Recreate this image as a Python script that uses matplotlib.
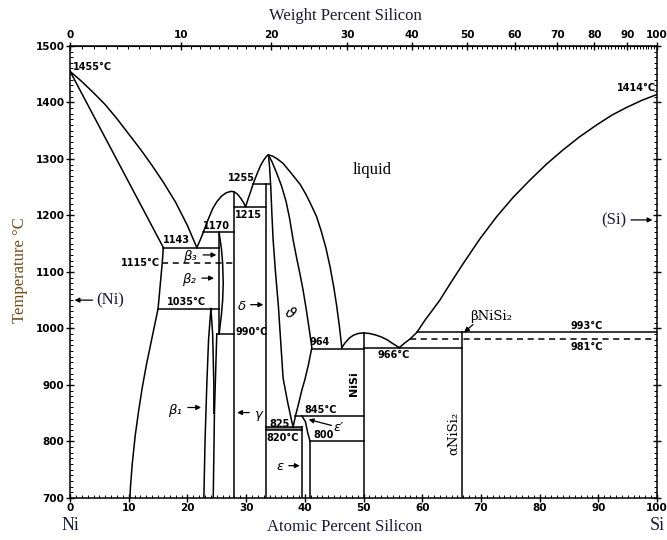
import numpy as np
import matplotlib
matplotlib.use("Agg")
import matplotlib.pyplot as plt
from matplotlib.ticker import MultipleLocator, FixedLocator

plt.rcParams['font.weight'] = 'bold'

# ---- phase boundaries (atomic % Si, temperature in C) ----
liq_ni_x = [0, 2, 4, 6, 8, 10, 12, 14, 16, 18, 20, 21.6]
liq_ni_t = [1455, 1437, 1417, 1396, 1371, 1344, 1317, 1288, 1257, 1223, 1182, 1143]

sol_ni_x = [0, 15.9]
sol_ni_t = [1455, 1143]

solv_ni_x = [15.9, 15.7, 15.0, 14.4, 13.7, 13.0, 12.3, 11.7, 11.1, 10.6, 10.3, 10.2]
solv_ni_t = [1143, 1115, 1035, 1005, 970, 935, 895, 855, 810, 760, 720, 700]

liq_mid_x = [21.6, 22.2, 22.7, 23.5, 24.3, 25.0, 25.8, 26.6, 27.4, 27.9, 28.5, 29.1,
             29.6, 29.9, 30.3, 30.8, 31.2, 31.8, 32.4, 33.0, 33.5, 33.8]
liq_mid_t = [1143, 1157, 1170, 1192, 1212, 1224, 1234, 1240, 1242.5, 1242, 1238, 1230,
             1222, 1215, 1228, 1243, 1256, 1272, 1287, 1298, 1305, 1307]

liq_theta_x = [33.8, 34.5, 35.3, 36.3, 37.5, 38.5, 39.2, 40.2, 41.1, 42.0, 42.8, 43.6,
               44.3, 44.9, 45.4, 45.9, 46.3]
liq_theta_t = [1307, 1305, 1300, 1292, 1277, 1264, 1255, 1237, 1218, 1198, 1172, 1142,
               1109, 1075, 1042, 1003, 966]

theta_r_x = [33.8, 34.4, 35.2, 36.0, 36.8, 37.4, 38.0, 38.6, 39.2, 39.7, 40.3, 40.8, 41.2,
             40.6, 40.0, 39.5, 38.9, 38.4, 38.0]
theta_r_t = [1307, 1295, 1275, 1253, 1225, 1195, 1157, 1125, 1095, 1068, 1030, 995, 966,
             935, 909, 891, 865, 845, 825]

theta_l_x = [33.8, 34.0, 34.2, 34.4, 34.6, 35.0, 35.5, 35.9, 36.3, 37.1, 38.0]
theta_l_t = [1307, 1285, 1250, 1200, 1157, 1100, 1039, 975, 912, 868, 825]

liq_nisi_x = [46.3, 46.9, 47.6, 48.3, 49.1, 50, 51, 52, 53, 54, 55, 56.1]
liq_nisi_t = [966, 975, 983, 988, 991, 992, 991, 988.5, 985, 980, 973, 966]

liq_si_x = [56.1, 57.0, 57.9, 59.1, 60.5, 61.8, 63.0, 65.0, 67.0, 69.8, 72.7, 75.5, 78.4,
            81.2, 84.0, 86.8, 89.7, 92.4, 95.0, 97.5, 100]
liq_si_t = [966, 974, 981, 993, 1015, 1033, 1050, 1083, 1115, 1158, 1198, 1232, 1263,
            1291, 1316, 1339, 1360, 1378, 1392, 1404, 1414]

beta1_l_x = [22.8, 23.0, 23.3, 23.6, 24.0]
beta1_l_t = [700, 800, 900, 980, 1035]
beta1_m_x = [24.0, 24.3, 24.5, 24.5]
beta1_m_t = [1035, 990, 900, 850]
beta1_r_x = [24.4, 24.6, 25.0]
beta1_r_t = [700, 850, 990]

beta2_x = [25.4, 25.8, 26.0, 26.1, 26.0, 25.8, 25.4]
beta2_t = [1170, 1140, 1115, 1080, 1050, 1025, 990]

eps_p_x = [39.5, 40.1, 40.5, 40.9]
eps_p_t = [845, 835, 815, 800]

# vertical compound lines: x, t_top, t_bottom
verticals = [(25.3, 1170, 990), (27.9, 1242, 700), (33.4, 1255, 700),
             (39.6, 826, 700), (40.9, 800, 700), (50.0, 992, 700), (66.7, 993, 700)]

# invariant horizontal lines: t, x_start, x_end
invariants = [(1143, 15.9, 25.3), (1170, 22.7, 27.9), (1035, 15.0, 25.3),
              (990, 25.0, 27.9), (1215, 27.9, 33.4), (1255, 31.2, 34.0),
              (964, 41.2, 50.0), (966, 50.0, 66.7), (993, 59.1, 100),
              (845, 38.4, 50.0), (800, 40.9, 50.0), (825, 33.4, 39.6), (820, 33.4, 39.6)]
dashed = [(1115, 15.7, 27.9), (981, 57.9, 100)]

M_SI, M_NI = 28.0855, 58.693


def at2wt(a):
    a = np.asarray(a, dtype=float)
    return 100 * a * M_SI / (a * M_SI + (100 - a) * M_NI)


def wt2at(w):
    w = np.asarray(w, dtype=float)
    return 100 * (w / M_SI) / (w / M_SI + (100 - w) / M_NI)


fig = plt.figure(figsize=(6.67, 5.4), dpi=100)
ax = fig.add_axes([0.105, 0.078, 0.880, 0.837])
ax.set_xlim(0, 100)
ax.set_ylim(700, 1500)

lw = 1.1
k = 'black'
for xs, ts in [(liq_ni_x, liq_ni_t), (sol_ni_x, sol_ni_t), (solv_ni_x, solv_ni_t),
               (liq_mid_x, liq_mid_t), (liq_theta_x, liq_theta_t), (theta_r_x, theta_r_t),
               (theta_l_x, theta_l_t), (liq_nisi_x, liq_nisi_t), (liq_si_x, liq_si_t),
               (beta1_l_x, beta1_l_t), (beta1_m_x, beta1_m_t), (beta1_r_x, beta1_r_t),
               (beta2_x, beta2_t), (eps_p_x, eps_p_t)]:
    ax.plot(xs, ts, color=k, lw=lw, solid_joinstyle='round')

for x, t0, t1 in verticals:
    ax.plot([x, x], [t0, t1], color=k, lw=lw)
for t, x0, x1 in invariants:
    ax.plot([x0, x1], [t, t], color=k, lw=lw)
for t, x0, x1 in dashed:
    ax.plot([x0, x1], [t, t], color=k, lw=lw, ls=(0, (4, 3)))
ax.fill_between([33.4, 39.6], 820, 825, color='0.55', lw=0)

# labels
lab = dict(fontsize=7, fontweight='bold', family='DejaVu Sans')
ax.text(0.5, 1463, '1455°C', ha='left', va='center', **lab)
ax.text(96.5, 1425, '1414°C', ha='center', va='center', **lab)
ax.text(18.2, 1157, '1143', ha='center', va='center', **lab)
ax.text(15.4, 1115, '1115°C', ha='right', va='center', **lab)
ax.text(25.0, 1181, '1170', ha='center', va='center', **lab)
ax.text(30.4, 1200, '1215', ha='center', va='center', **lab)
ax.text(29.2, 1267, '1255', ha='center', va='center', **lab)
ax.text(19.9, 1046, '1035°C', ha='center', va='center', **lab)
ax.text(28.2, 994, '990°C', ha='left', va='center', **lab)
ax.text(42.6, 976, '964', ha='center', va='center', **lab)
ax.text(55.2, 953, '966°C', ha='center', va='center', **lab)
ax.text(88.0, 1004, '993°C', ha='center', va='center', **lab)
ax.text(88.0, 967, '981°C', ha='center', va='center', **lab)
ax.text(35.7, 831, '825', ha='center', va='center', **lab)
ax.text(36.3, 806, '820°C', ha='center', va='center', **lab)
ax.text(42.7, 855, '845°C', ha='center', va='center', **lab)
ax.text(43.2, 812, '800', ha='center', va='center', **lab)
ax.text(48.4, 903, 'NiSi', ha='center', va='center', rotation=90,
        fontsize=8, fontweight='bold', family='DejaVu Sans')
ax.text(65.4, 814, 'αNiSi₂', ha='center', va='center', rotation=90,
        fontsize=9.5, family='DejaVu Serif', fontweight='normal')

greek = dict(ha='center', va='center', fontsize=9.5, fontweight='normal',
             fontstyle='italic', family='DejaVu Sans')
arr = dict(arrowstyle='-|>', color=k, lw=0.9, mutation_scale=7)
ax.annotate('', xy=(25.4, 1130), xytext=(22.2, 1130), arrowprops=arr)
ax.text(20.5, 1127, 'β₃', **greek)
ax.annotate('', xy=(25.0, 1089), xytext=(22.0, 1089), arrowprops=arr)
ax.text(20.2, 1086, 'β₂', **greek)
ax.annotate('', xy=(22.8, 860), xytext=(19.6, 860), arrowprops=arr)
ax.text(17.9, 855, 'β₁', **greek)
ax.annotate('', xy=(33.4, 1042), xytext=(30.3, 1042), arrowprops=arr)
ax.text(29.3, 1038, 'δ', **greek)
ax.annotate('', xy=(28.0, 851), xytext=(31.0, 851), arrowprops=arr)
ax.text(32.1, 847, 'γ', **greek)
ax.annotate('', xy=(39.6, 757), xytext=(36.8, 757), arrowprops=arr)
ax.text(35.8, 756, 'ε', **greek)
ax.annotate('', xy=(40.2, 840), xytext=(45.0, 827), arrowprops=arr)
ax.text(45.7, 824, 'ε′', **greek)
ax.text(37.5, 1027, 'ϑ', ha='center', va='center', fontsize=10.5, rotation=-30,
        fontweight='normal', fontstyle='italic', family='DejaVu Sans')
ax.annotate('', xy=(66.8, 990), xytext=(69.0, 1010), arrowprops=arr)
ax.text(68.1, 1021, 'βNiSi₂', ha='left', va='center', fontsize=9.5,
        family='DejaVu Serif', fontweight='normal')

serif = dict(family='Liberation Serif', color='#1a1a40', fontweight='normal')
ax.text(51.4, 1280, 'liquid', ha='center', va='center', fontsize=12,
        family='Liberation Serif', fontweight='normal')
ax.annotate('', xy=(0.3, 1050), xytext=(4.3, 1050), arrowprops=arr)
ax.text(4.5, 1050, '(Ni)', ha='left', va='center', fontsize=12, **serif)
ax.annotate('', xy=(99.7, 1192), xytext=(95.1, 1192), arrowprops=arr)
ax.text(94.8, 1192, '(Si)', ha='right', va='center', fontsize=12, **serif)

# axes & ticks
ax.xaxis.set_major_locator(MultipleLocator(10))
ax.xaxis.set_minor_locator(MultipleLocator(1))
ax.yaxis.set_major_locator(MultipleLocator(100))
ax.yaxis.set_minor_locator(MultipleLocator(10))
ax.tick_params(which='major', direction='inout', length=6, width=1, right=True,
               labelsize=7.5, pad=1)
ax.tick_params(which='minor', direction='in', length=2.5, width=0.7, right=True)
for sp in ax.spines.values():
    sp.set_linewidth(1.1)

top = ax.secondary_xaxis('top', functions=(at2wt, wt2at))
top.xaxis.set_major_locator(FixedLocator(list(range(0, 101, 10))))
top.xaxis.set_minor_locator(FixedLocator(list(range(0, 101, 1))))
top.tick_params(which='major', direction='inout', length=6, width=1, labelsize=7.5, pad=1)
top.tick_params(which='minor', direction='in', length=2.5, width=0.7)

fig.text(345 / 667, 1 - 16 / 540, 'Weight Percent Silicon', ha='center', va='center',
         fontsize=12, family='Liberation Serif', color='#1a1a30', fontweight='normal')
fig.text(345 / 667, 1 - 527 / 540, 'Atomic Percent Silicon', ha='center', va='center',
         fontsize=12, family='Liberation Serif', color='#1a1a40', fontweight='normal')
fig.text(70 / 667, 1 - 526 / 540, 'Ni', ha='center', va='center', fontsize=13,
         family='Liberation Serif', color='#1a1a40', fontweight='normal')
fig.text(657 / 667, 1 - 526 / 540, 'Si', ha='center', va='center', fontsize=13,
         family='Liberation Serif', color='#1a1a40', fontweight='normal')
fig.text(20 / 667, 1 - 270 / 540, 'Temperature °C', ha='center', va='center', rotation=90,
         fontsize=12, family='Liberation Serif', color='#7a4a10', fontweight='normal')

fig.savefig('out.png', dpi=100)
